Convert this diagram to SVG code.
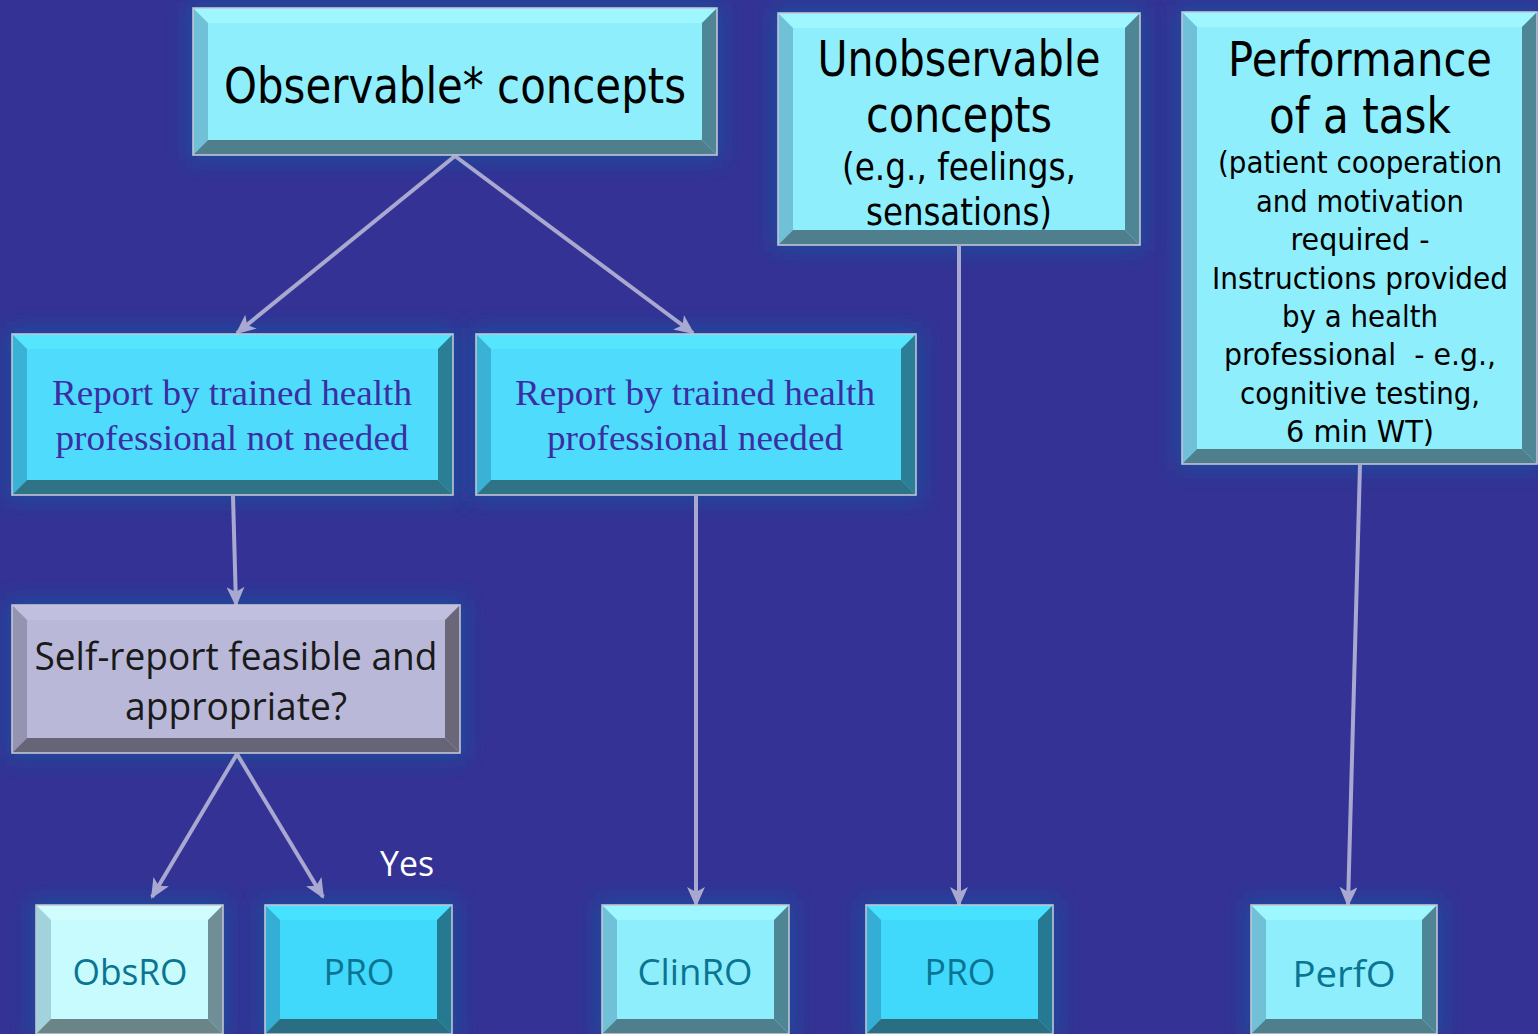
<svg xmlns="http://www.w3.org/2000/svg" width="1538" height="1034" viewBox="0 0 1538 1034">
  <style>
    .bg{fill:#343294}
    .glow{fill:#1c4c9c;filter:url(#soft)}
    .edge{fill:none;stroke:#c4c4d6;stroke-width:1.6}
    /* light cyan boxes */
    .lt .f{fill:#8feefc}.lt .t{fill:#9ef6ff}.lt .l{fill:#70c0d8}.lt .r{fill:#4f8696}.lt .b{fill:#4f7f8c}
    /* medium cyan boxes */
    .md .f{fill:#4fdcfc}.md .t{fill:#55e6fe}.md .l{fill:#3ab2d6}.md .r{fill:#2a7f96}.md .b{fill:#2e7386}
    /* bright cyan boxes */
    .br .f{fill:#40d9fc}.br .t{fill:#46e2ff}.br .l{fill:#34aed4}.br .r{fill:#257a92}.br .b{fill:#2a6e84}
    /* pale boxes */
    .pl .f{fill:#c8fbfd}.pl .t{fill:#d2fdff}.pl .l{fill:#a2d2dc}.pl .r{fill:#6f8e96}.pl .b{fill:#6b8488}
    /* lavender boxes */
    .lv .f{fill:#b9b8d8}.lv .t{fill:#c0bfe0}.lv .l{fill:#9493b0}.lv .r{fill:#6a6878}.lv .b{fill:#666477}
    .tah{font-family:"DejaVu Sans","Liberation Sans",sans-serif;fill:#000;text-anchor:middle}
    .ser{font-family:"Liberation Serif","Times New Roman",serif;fill:#3b2ea3;text-anchor:middle;font-size:35px}
    .cal{font-family:"Open Sans","Noto Sans",sans-serif;text-anchor:middle}
    .lbl{font-family:"Open Sans","Noto Sans",sans-serif;fill:#0a7593;text-anchor:middle;font-size:36px}
    .conn{stroke:#a9a8d0;stroke-width:4;fill:none;marker-end:url(#arr)}
  </style>
  <defs>
    <filter id="soft" x="-20%" y="-20%" width="140%" height="140%">
      <feGaussianBlur stdDeviation="10"/>
    </filter>
    <marker id="arr" markerUnits="userSpaceOnUse" viewBox="0 0 20 18" refX="18" refY="9" markerWidth="20" markerHeight="18" orient="auto">
      <path d="M0,0 L20,9 L0,18 L5,9 Z" fill="#a9a8d0"/>
    </marker>
  </defs>

  <rect class="bg" x="0" y="0" width="1538" height="1034"/>

  <!-- soft halo behind every box -->
  <g id="halos">
    <rect class="glow" x="187" y="2" width="536" height="159"/>
    <rect class="glow" x="772" y="7" width="374" height="244"/>
    <rect class="glow" x="1176" y="6" width="367" height="464"/>
    <rect class="glow" x="6" y="328" width="453" height="173"/>
    <rect class="glow" x="470" y="328" width="452" height="173"/>
    <rect class="glow" x="6" y="599" width="460" height="160"/>
    <rect class="glow" x="30" y="899" width="199" height="141"/>
    <rect class="glow" x="259" y="899" width="199" height="141"/>
    <rect class="glow" x="596" y="899" width="199" height="141"/>
    <rect class="glow" x="860" y="899" width="199" height="141"/>
    <rect class="glow" x="1245" y="899" width="198" height="141"/>
  </g>

  <g id="connectors">
    <line class="conn" x1="455" y1="156" x2="237" y2="333"/>
    <line class="conn" x1="455" y1="156" x2="693" y2="333"/>
    <line class="conn" x1="233" y1="496" x2="236" y2="605"/>
    <line class="conn" x1="237" y1="754" x2="152" y2="897"/>
    <line class="conn" x1="237" y1="754" x2="323" y2="897"/>
    <line class="conn" x1="696" y1="496" x2="696" y2="905"/>
    <line class="conn" x1="959" y1="246" x2="959" y2="905"/>
    <line class="conn" x1="1360" y1="465" x2="1348" y2="905"/>
  </g>

  <g id="observable" class="lt">
    <rect class="f" x="193" y="8" width="524" height="147"/>
    <polygon class="t" points="193,8 717,8 702,23 208,23"/>
    <polygon class="l" points="193,8 208,23 208,140 193,155"/>
    <polygon class="r" points="717,8 717,155 702,140 702,23"/>
    <polygon class="b" points="193,155 208,140 702,140 717,155"/>
    <rect class="edge" x="193" y="8" width="524" height="147"/>
    <text class="tah" x="455" y="103" font-size="50" textLength="462" lengthAdjust="spacingAndGlyphs">Observable* concepts</text>
  </g>

  <g id="unobservable" class="lt">
    <rect class="f" x="778" y="13" width="362" height="232"/>
    <polygon class="t" points="778,13 1140,13 1125,28 793,28"/>
    <polygon class="l" points="778,13 793,28 793,230 778,245"/>
    <polygon class="r" points="1140,13 1140,245 1125,230 1125,28"/>
    <polygon class="b" points="778,245 793,230 1125,230 1140,245"/>
    <rect class="edge" x="778" y="13" width="362" height="232"/>
    <text class="tah" x="959" y="76" font-size="50" textLength="283" lengthAdjust="spacingAndGlyphs">Unobservable</text>
    <text class="tah" x="959" y="132" font-size="50" textLength="186" lengthAdjust="spacingAndGlyphs">concepts</text>
    <text class="tah" x="959" y="180" font-size="37" textLength="234" lengthAdjust="spacingAndGlyphs">(e.g., feelings,</text>
    <text class="tah" x="959" y="225" font-size="37" textLength="186" lengthAdjust="spacingAndGlyphs">sensations)</text>
  </g>

  <g id="performance" class="lt">
    <rect class="f" x="1182" y="12" width="355" height="452"/>
    <polygon class="t" points="1182,12 1537,12 1522,27 1197,27"/>
    <polygon class="l" points="1182,12 1197,27 1197,449 1182,464"/>
    <polygon class="r" points="1537,12 1537,464 1522,449 1522,27"/>
    <polygon class="b" points="1182,464 1197,449 1522,449 1537,464"/>
    <rect class="edge" x="1182" y="12" width="355" height="452"/>
    <text class="tah" x="1360" y="76" font-size="48" textLength="264" lengthAdjust="spacingAndGlyphs">Performance</text>
    <text class="tah" x="1360" y="133" font-size="50" textLength="182" lengthAdjust="spacingAndGlyphs">of a task</text>
    <text class="tah" x="1360" y="173" font-size="31" textLength="284" lengthAdjust="spacingAndGlyphs">(patient cooperation</text>
    <text class="tah" x="1360" y="212" font-size="31" textLength="208" lengthAdjust="spacingAndGlyphs">and motivation</text>
    <text class="tah" x="1360" y="250" font-size="31" textLength="139" lengthAdjust="spacingAndGlyphs">required -</text>
    <text class="tah" x="1360" y="289" font-size="31" textLength="296" lengthAdjust="spacingAndGlyphs">Instructions provided</text>
    <text class="tah" x="1360" y="327" font-size="31" textLength="156" lengthAdjust="spacingAndGlyphs">by a health</text>
    <text class="tah" x="1360" y="365" font-size="31" textLength="272" lengthAdjust="spacingAndGlyphs" xml:space="preserve">professional  - e.g.,</text>
    <text class="tah" x="1360" y="404" font-size="31" textLength="240" lengthAdjust="spacingAndGlyphs">cognitive testing,</text>
    <text class="tah" x="1360" y="442" font-size="31" textLength="148" lengthAdjust="spacingAndGlyphs">6 min WT)</text>
  </g>

  <g id="report-not-needed" class="md">
    <rect class="f" x="12" y="334" width="441" height="161"/>
    <polygon class="t" points="12,334 453,334 438,349 27,349"/>
    <polygon class="l" points="12,334 27,349 27,480 12,495"/>
    <polygon class="r" points="453,334 453,495 438,480 438,349"/>
    <polygon class="b" points="12,495 27,480 438,480 453,495"/>
    <rect class="edge" x="12" y="334" width="441" height="161"/>
    <text class="ser" x="232" y="405" textLength="360" lengthAdjust="spacingAndGlyphs">Report by trained health</text>
    <text class="ser" x="232" y="450" textLength="353" lengthAdjust="spacingAndGlyphs">professional not needed</text>
  </g>

  <g id="report-needed" class="md">
    <rect class="f" x="476" y="334" width="440" height="161"/>
    <polygon class="t" points="476,334 916,334 901,349 491,349"/>
    <polygon class="l" points="476,334 491,349 491,480 476,495"/>
    <polygon class="r" points="916,334 916,495 901,480 901,349"/>
    <polygon class="b" points="476,495 491,480 901,480 916,495"/>
    <rect class="edge" x="476" y="334" width="440" height="161"/>
    <text class="ser" x="695" y="405" textLength="360" lengthAdjust="spacingAndGlyphs">Report by trained health</text>
    <text class="ser" x="695" y="450" textLength="296" lengthAdjust="spacingAndGlyphs">professional needed</text>
  </g>

  <g id="self-report" class="lv">
    <rect class="f" x="12" y="605" width="448" height="148"/>
    <polygon class="t" points="12,605 460,605 445,620 27,620"/>
    <polygon class="l" points="12,605 27,620 27,738 12,753"/>
    <polygon class="r" points="460,605 460,753 445,738 445,620"/>
    <polygon class="b" points="12,753 27,738 445,738 460,753"/>
    <rect class="edge" x="12" y="605" width="448" height="148"/>
    <text class="cal" x="236" y="670" font-size="38" fill="#1a1a1a" textLength="403" lengthAdjust="spacingAndGlyphs">Self-report feasible and</text>
    <text class="cal" x="236" y="720" font-size="38" fill="#1a1a1a" textLength="222" lengthAdjust="spacingAndGlyphs">appropriate?</text>
  </g>

  <text id="yes-label" class="cal" x="407" y="876" font-size="34" fill="#ffffff" textLength="54" lengthAdjust="spacingAndGlyphs">Yes</text>

  <g id="obsro" class="pl">
    <rect class="f" x="36" y="905" width="187" height="129"/>
    <polygon class="t" points="36,905 223,905 208,920 51,920"/>
    <polygon class="l" points="36,905 51,920 51,1019 36,1034"/>
    <polygon class="r" points="223,905 223,1034 208,1019 208,920"/>
    <polygon class="b" points="36,1034 51,1019 208,1019 223,1034"/>
    <rect class="edge" x="36" y="905" width="187" height="129"/>
    <text class="lbl" x="130" y="985" textLength="115" lengthAdjust="spacingAndGlyphs">ObsRO</text>
  </g>

  <g id="pro-self" class="br">
    <rect class="f" x="265" y="905" width="187" height="129"/>
    <polygon class="t" points="265,905 452,905 437,920 280,920"/>
    <polygon class="l" points="265,905 280,920 280,1019 265,1034"/>
    <polygon class="r" points="452,905 452,1034 437,1019 437,920"/>
    <polygon class="b" points="265,1034 280,1019 437,1019 452,1034"/>
    <rect class="edge" x="265" y="905" width="187" height="129"/>
    <text class="lbl" x="359" y="985" textLength="71" lengthAdjust="spacingAndGlyphs">PRO</text>
  </g>

  <g id="clinro" class="lt">
    <rect class="f" x="602" y="905" width="187" height="129"/>
    <polygon class="t" points="602,905 789,905 774,920 617,920"/>
    <polygon class="l" points="602,905 617,920 617,1019 602,1034"/>
    <polygon class="r" points="789,905 789,1034 774,1019 774,920"/>
    <polygon class="b" points="602,1034 617,1019 774,1019 789,1034"/>
    <rect class="edge" x="602" y="905" width="187" height="129"/>
    <text class="lbl" x="695" y="985" textLength="115" lengthAdjust="spacingAndGlyphs">ClinRO</text>
  </g>

  <g id="pro-unobservable" class="br">
    <rect class="f" x="866" y="905" width="187" height="129"/>
    <polygon class="t" points="866,905 1053,905 1038,920 881,920"/>
    <polygon class="l" points="866,905 881,920 881,1019 866,1034"/>
    <polygon class="r" points="1053,905 1053,1034 1038,1019 1038,920"/>
    <polygon class="b" points="866,1034 881,1019 1038,1019 1053,1034"/>
    <rect class="edge" x="866" y="905" width="187" height="129"/>
    <text class="lbl" x="960" y="985" textLength="71" lengthAdjust="spacingAndGlyphs">PRO</text>
  </g>

  <g id="perfo" class="lt">
    <rect class="f" x="1251" y="905" width="186" height="129"/>
    <polygon class="t" points="1251,905 1437,905 1422,920 1266,920"/>
    <polygon class="l" points="1251,905 1266,920 1266,1019 1251,1034"/>
    <polygon class="r" points="1437,905 1437,1034 1422,1019 1422,920"/>
    <polygon class="b" points="1251,1034 1266,1019 1422,1019 1437,1034"/>
    <rect class="edge" x="1251" y="905" width="186" height="129"/>
    <text class="lbl" x="1344" y="987" font-size="40" textLength="103" lengthAdjust="spacingAndGlyphs">PerfO</text>
  </g>
</svg>
